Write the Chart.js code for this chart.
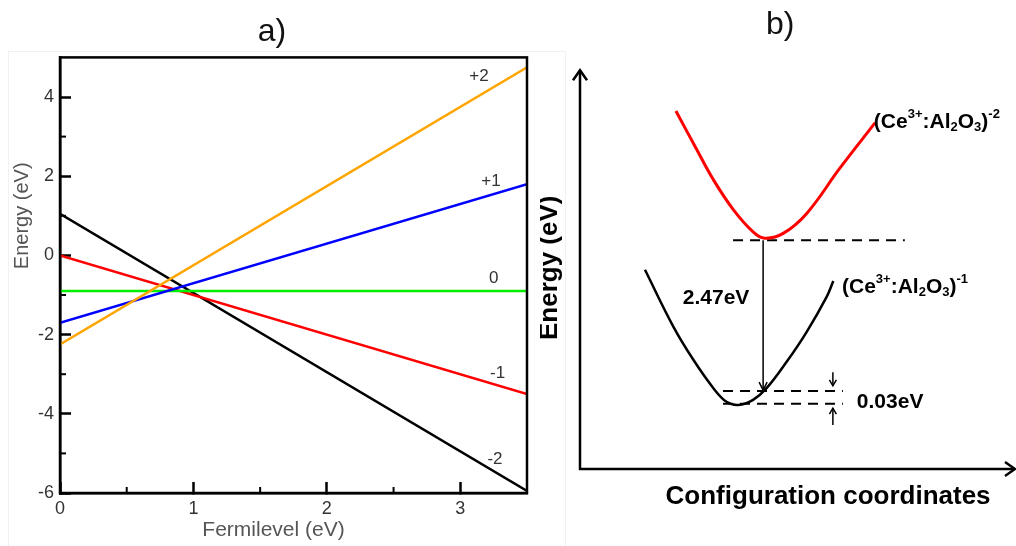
<!DOCTYPE html>
<html>
<head>
<meta charset="utf-8">
<script src="https://cdn.jsdelivr.net/npm/chart.js@4.4.0/dist/chart.umd.min.js"></script>
<style>
  body { margin: 0; background: #fff; }
  #wrap { position: relative; width: 1016px; height: 546px; overflow: hidden; }
  #chartA { position: absolute; left: 0; top: 0; }
  #chartB { position: absolute; left: 540px; top: 0; }
  .frame { position: absolute; left: 8px; top: 51px; width: 556px; height: 520px; border: 1px solid #f1f1f1; }
</style>
</head>
<body>
<div id="wrap">
  <div class="frame"></div>
  <canvas id="chartA" width="540" height="546"></canvas>
  <canvas id="chartB" width="476" height="546"></canvas>
</div>
<script>
// ---- panel a) formation energy vs Fermi level ----
const fermiLevel = [0, 3.5];
const charges = ['+2', '+1', '0', '-1', '-2'];
const energyStart = [-2.25, -1.70, -0.90, 0.00, 1.05];   // at Ef = 0
const energyEnd = [4.75, 1.80, -0.90, -3.50, -5.95];     // at Ef = 3.5
const xMajorTicks = [0, 1, 2, 3];
const xMinorTicks = [0.5, 1.5, 2.5];
const yMajorTicks = [-6, -4, -2, 0, 2, 4];
const yMinorTicks = [-5, -3, -1, 1, 3];

// ---- panel b) configuration coordinate diagram ----
const coordRed = [2.20, 2.68, 3.06, 3.52, 3.97, 4.24, 4.66, 5.20, 5.96, 6.77];
const energyRed = [8.95, 7.98, 7.23, 6.48, 5.93, 5.77, 5.89, 6.39, 7.52, 8.66];
const coordBlack = [1.49, 2.14, 2.60, 3.06, 3.36, 3.63, 3.97, 4.28, 4.74, 5.20, 5.66, 5.81];
const energyBlack = [4.98, 3.56, 2.73, 2.02, 1.68, 1.60, 1.73, 2.02, 2.68, 3.43, 4.31, 4.70];
const upperLevel = 5.72;
const emissionLevel = 1.97;
const lowerLevel = 1.63;
const upperDashX = [3.51, 7.45];
const lowerDashX = [3.28, 6.03];
const transitionX = 4.20;

const FONT = '"Liberation Sans", Arial, sans-serif';
const lineColors = ['#ffa500', '#0000ff', '#00ee00', '#ff0000', '#000000'];

// where the charge labels sit (data units)
const chargeLabelPos = [[3.14, 4.53], [3.23, 1.88], [3.25, -0.59], [3.28, -2.98], [3.26, -5.14]];

const panelA = {
  id: 'panelA',
  afterDraw(chart) {
    const { ctx, chartArea: a, scales: { x, y } } = chart;
    ctx.save();
    ctx.strokeStyle = '#000';
    ctx.lineWidth = 2;
    xMinorTicks.forEach(v => {
      const px = x.getPixelForValue(v);
      ctx.beginPath(); ctx.moveTo(px, a.bottom); ctx.lineTo(px, a.bottom - 6); ctx.stroke();
    });
    yMinorTicks.forEach(v => {
      const py = y.getPixelForValue(v);
      ctx.beginPath(); ctx.moveTo(a.left, py); ctx.lineTo(a.left + 6, py); ctx.stroke();
    });
    ctx.lineWidth = 2.5;
    ctx.strokeRect(a.left, a.top, a.right - a.left, a.bottom - a.top);

    ctx.fillStyle = '#333';
    ctx.font = '17px ' + FONT;
    ctx.textAlign = 'center';
    ctx.textBaseline = 'middle';
    charges.forEach((c, i) => {
      ctx.fillText(c, x.getPixelForValue(chargeLabelPos[i][0]), y.getPixelForValue(chargeLabelPos[i][1]));
    });

    ctx.fillStyle = '#555';
    ctx.font = '21px ' + FONT;
    ctx.fillText('Fermilevel (eV)', x.getPixelForValue(1.6), a.bottom + 37);
    ctx.translate(22, y.getPixelForValue(1.0));
    ctx.rotate(-Math.PI / 2);
    ctx.font = '20px ' + FONT;
    ctx.fillText('Energy (eV)', 0, 0);
    ctx.restore();
  }
};

new Chart(document.getElementById('chartA').getContext('2d'), {
  type: 'line',
  data: {
    datasets: charges.map((c, i) => ({
      label: c,
      data: fermiLevel.map((f, j) => ({ x: f, y: j === 0 ? energyStart[i] : energyEnd[i] })),
      borderColor: lineColors[i],
      borderWidth: 2.5,
      pointRadius: 0,
      tension: 0
    }))
  },
  options: {
    responsive: false,
    animation: false,
    layout: { padding: { left: 17, right: 13, top: 0, bottom: 0 } },
    plugins: {
      legend: { display: false },
      tooltip: { enabled: false },
      title: {
        display: true,
        text: 'a)',
        color: '#111',
        font: { size: 32, family: FONT, weight: 'normal' },
        padding: { top: 13, bottom: 6 }
      }
    },
    scales: {
      x: {
        type: 'linear',
        min: 0,
        max: 3.5,
        afterBuildTicks: s => { s.ticks = xMajorTicks.map(v => ({ value: v })); },
        afterFit: s => { s.height = 53; },
        grid: { drawOnChartArea: false, tickLength: -11, tickWidth: 2.5, color: '#000', tickColor: '#000' },
        border: { color: '#000', width: 2.5 },
        ticks: { padding: 16, color: '#333', maxRotation: 0, font: { size: 18, family: FONT } }
      },
      y: {
        type: 'linear',
        min: -6,
        max: 5,
        afterBuildTicks: s => { s.ticks = yMajorTicks.map(v => ({ value: v })); },
        afterFit: s => { s.width = 43; },
        grid: { drawOnChartArea: false, tickLength: -11, tickWidth: 2.5, color: '#000', tickColor: '#000' },
        border: { color: '#000', width: 2.5 },
        ticks: { padding: 17, color: '#333', font: { size: 18, family: FONT } }
      }
    }
  },
  plugins: [panelA]
});

// ---- panel b) ----
function chevron(ctx, tx, ty, ang, len, half) {
  const bx = tx - Math.cos(ang) * len, by = ty - Math.sin(ang) * len;
  const nx = -Math.sin(ang) * half, ny = Math.cos(ang) * half;
  ctx.beginPath();
  ctx.moveTo(bx + nx, by + ny);
  ctx.lineTo(tx, ty);
  ctx.lineTo(bx - nx, by - ny);
  ctx.stroke();
}

function richText(ctx, parts, x0, y0, size) {
  let cx = x0;
  parts.forEach(([t, kind]) => {
    const s = kind ? Math.round(size * 0.62) : size;
    const dy = kind === 'sup' ? -size * 0.36 : kind === 'sub' ? size * 0.28 : 0;
    ctx.font = 'bold ' + s + 'px ' + FONT;
    ctx.fillText(t, cx, y0 + dy);
    cx += ctx.measureText(t).width;
  });
}

const panelB = {
  id: 'panelB',
  afterDraw(chart) {
    const { ctx, chartArea: a, scales: { x, y } } = chart;
    ctx.save();
    ctx.strokeStyle = '#000';
    ctx.fillStyle = '#000';
    ctx.lineCap = 'butt';
    // axes with arrows
    ctx.lineWidth = 2.5;
    ctx.beginPath();
    ctx.moveTo(a.left, y.getPixelForValue(9.97));
    ctx.lineTo(a.left, a.bottom);
    ctx.lineTo(a.right - 1, a.bottom);
    ctx.stroke();
    chevron(ctx, a.left, y.getPixelForValue(9.97), -Math.PI / 2, 10, 7);
    chevron(ctx, a.right - 1, a.bottom, 0, 10, 7);

    // transition arrow head
    ctx.lineWidth = 1.5;
    chevron(ctx, x.getPixelForValue(transitionX), y.getPixelForValue(emissionLevel), Math.PI / 2, 8, 4);

    // 0.03 eV marker arrows
    const mx = x.getPixelForValue(5.80);
    ctx.beginPath();
    ctx.moveTo(mx, y.getPixelForValue(2.42)); ctx.lineTo(mx, y.getPixelForValue(2.08));
    ctx.moveTo(mx, y.getPixelForValue(1.10)); ctx.lineTo(mx, y.getPixelForValue(1.52));
    ctx.stroke();
    chevron(ctx, mx, y.getPixelForValue(2.08), Math.PI / 2, 6, 3.5);
    chevron(ctx, mx, y.getPixelForValue(1.52), -Math.PI / 2, 6, 3.5);

    // labels
    ctx.textBaseline = 'middle';
    ctx.textAlign = 'center';
    ctx.font = 'bold 21px ' + FONT;
    ctx.fillText('2.47eV', x.getPixelForValue(3.12), y.getPixelForValue(4.28));
    ctx.textAlign = 'left';
    ctx.fillText('0.03eV', x.getPixelForValue(6.35), y.getPixelForValue(1.68));
    richText(ctx, [['(Ce'], ['3+', 'sup'], [':Al'], ['2', 'sub'], ['O'], ['3', 'sub'], [')'], ['-2', 'sup']],
      x.getPixelForValue(6.74), y.getPixelForValue(8.68), 21);
    richText(ctx, [['(Ce'], ['3+', 'sup'], [':Al'], ['2', 'sub'], ['O'], ['3', 'sub'], [')'], ['-1', 'sup']],
      x.getPixelForValue(6.01), y.getPixelForValue(4.55), 21);

    ctx.textAlign = 'center';
    ctx.font = 'bold 26px ' + FONT;
    ctx.fillText('Configuration coordinates', x.getPixelForValue(5.69), y.getPixelForValue(-0.70));
    ctx.font = '32px ' + FONT;
    ctx.fillStyle = '#111';
    ctx.fillText('b)', x.getPixelForValue(4.59), y.getPixelForValue(11.1));
    ctx.fillStyle = '#000';
    ctx.save();
    ctx.translate(x.getPixelForValue(-0.69), y.getPixelForValue(5.03));
    ctx.rotate(-Math.PI / 2);
    ctx.font = 'bold 26px ' + FONT;
    ctx.fillText('Energy (eV)', 0, 0);
    ctx.restore();
    ctx.restore();
  }
};

const dashStyle = { borderColor: '#000', borderWidth: 2, borderDash: [10, 7], pointRadius: 0 };

new Chart(document.getElementById('chartB').getContext('2d'), {
  type: 'line',
  data: {
    datasets: [
      {
        label: '(Ce3+:Al2O3)-2',
        data: coordRed.map((c, i) => ({ x: c, y: energyRed[i] })),
        borderColor: '#ff0000', borderWidth: 3, pointRadius: 0, tension: 0.4
      },
      {
        label: '(Ce3+:Al2O3)-1',
        data: coordBlack.map((c, i) => ({ x: c, y: energyBlack[i] })),
        borderColor: '#000', borderWidth: 2.5, pointRadius: 0, tension: 0.4
      },
      Object.assign({ label: 'upper', data: upperDashX.map(v => ({ x: v, y: upperLevel })) }, dashStyle),
      Object.assign({ label: 'emission', data: lowerDashX.map(v => ({ x: v, y: emissionLevel - 0.02 })) }, dashStyle),
      Object.assign({ label: 'lower', data: lowerDashX.map(v => ({ x: v, y: lowerLevel })) }, dashStyle),
      {
        label: '2.47eV',
        data: [{ x: transitionX, y: upperLevel }, { x: transitionX, y: emissionLevel }],
        borderColor: '#000', borderWidth: 1.5, pointRadius: 0
      }
    ]
  },
  options: {
    responsive: false,
    animation: false,
    layout: { padding: { left: 40, right: 0, top: 69, bottom: 77 } },
    plugins: { legend: { display: false }, tooltip: { enabled: false } },
    scales: {
      x: { type: 'linear', min: 0, max: 10, display: false },
      y: { type: 'linear', min: 0, max: 10, display: false }
    }
  },
  plugins: [panelB]
});
</script>
</body>
</html>
